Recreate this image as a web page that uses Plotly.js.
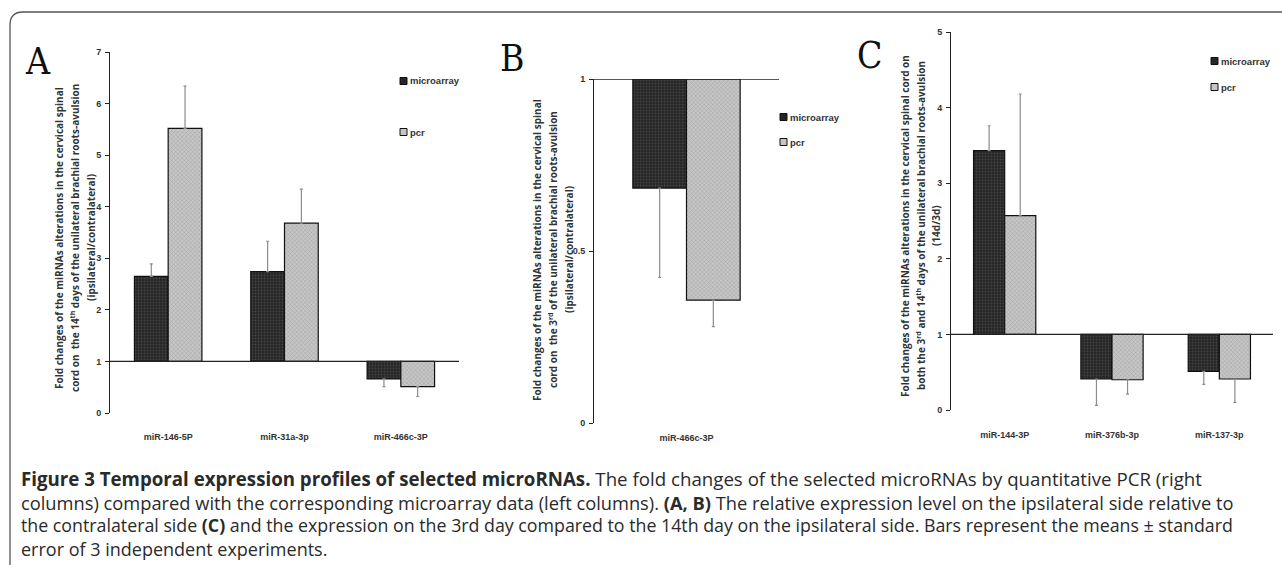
<!DOCTYPE html>
<html>
<head>
<meta charset="utf-8">
<script src="https://cdn.plot.ly/plotly-3.0.1.min.js"></script>
<style>html,body{margin:0;padding:0;background:#fff;}#chart{width:1282px;height:565px;}</style>
</head>
<body>
<div id="chart"></div>
<script>
// ---------- data ----------
const BASELINE = 1;
const seriesNames = ['microarray', 'pcr'];

const catsA = ['miR-146-5P', 'miR-31a-3p', 'miR-466c-3P'];
const microA = [2.65, 2.74, 0.66];
const microA_se = [0.24, 0.59, 0.15];
const pcrA = [5.52, 3.68, 0.51];
const pcrA_se = [0.82, 0.66, 0.19];
const ticksA = [0, 1, 2, 3, 4, 5, 6, 7];

const catsB = ['miR-466c-3P'];
const microB = [0.683];
const microB_se = [0.26];
const pcrB = [0.357];
const pcrB_se = [0.077];
const ticksB = [0, 0.5, 1];

const catsC = ['miR-144-3P', 'miR-376b-3p', 'miR-137-3p'];
const microC = [3.43, 0.41, 0.51];
const microC_se = [0.33, 0.35, 0.17];
const pcrC = [2.57, 0.40, 0.41];
const pcrC_se = [1.61, 0.19, 0.31];
const ticksC = [0, 1, 2, 3, 4, 5];

const titleA = ['Fold changes of the miRNAs alterations in the cervical spinal',
  'cord on  the 14<sup>th</sup> days of the unilateral brachial roots-avulsion',
  '(ipsilateral/contralateral)'];
const titleB = ['Fold changes of the miRNAs alterations in the cervical spinal',
  'cord on  the 3<sup>rd</sup> of the unilateral brachial roots-avulsion',
  '(ipsilateral/contralateral)'];
const titleC = ['Fold changes of the miRNAs alterations in the cervical spinal cord on',
  'both the 3<sup>rd</sup> and 14<sup>th</sup> days of the unilateral brachial roots-avulsion',
  '(14d/3d)'];

const captionLines = [
  '<b>Figure 3 Temporal expression profiles of selected microRNAs.</b> The fold changes of the selected microRNAs by quantitative PCR (right',
  'columns) compared with the corresponding microarray data (left columns). <b>(A, B)</b> The relative expression level on the ipsilateral side relative to',
  'the contralateral side <b>(C)</b> and the expression on the 3rd day compared to the 14th day on the ipsilateral side. Bars represent the means ± standard',
  'error of 3 independent experiments.'
];

// ---------- helpers ----------
const W = 1282, H = 565;
const px = x => x / W;
const py = y => 1 - y / H;

const microStyle = {color: '#2b2b2b', line: {color: '#111', width: 1.2},
  pattern: {shape: '.', fgcolor: '#444', bgcolor: '#262626', size: 3, solidity: 0.3}};
const pcrStyle = {color: '#c2c2c2', line: {color: '#111', width: 1.2},
  pattern: {shape: 'x', fgcolor: '#9c9c9c', bgcolor: '#c6c6c6', size: 3, solidity: 0.25}};

function barTrace(name, cats, vals, se, xa, ya, style) {
  return {
    type: 'bar', name: name, x: cats,
    y: vals.map(v => v - BASELINE),
    base: vals.map(() => BASELINE),
    xaxis: xa, yaxis: ya, marker: style, showlegend: false,
    error_y: {type: 'data', symmetric: false,
      array: vals.map((v, i) => v >= BASELINE ? se[i] : 0),
      arrayminus: vals.map((v, i) => v < BASELINE ? se[i] : 0),
      color: '#8c8c8c', thickness: 1.2, width: 1.5}
  };
}

const data = [
  barTrace(seriesNames[0], catsA, microA, microA_se, 'x', 'y', microStyle),
  barTrace(seriesNames[1], catsA, pcrA, pcrA_se, 'x', 'y', pcrStyle),
  barTrace(seriesNames[0], catsB, microB, microB_se, 'x2', 'y2', microStyle),
  barTrace(seriesNames[1], catsB, pcrB, pcrB_se, 'x2', 'y2', pcrStyle),
  barTrace(seriesNames[0], catsC, microC, microC_se, 'x3', 'y3', microStyle),
  barTrace(seriesNames[1], catsC, pcrC, pcrC_se, 'x3', 'y3', pcrStyle)
];

const tickFont = {family: 'Liberation Sans, Arial, sans-serif', size: 9, color: '#333', weight: 'bold'};

function xAxis(cats, left, right, anchor, standoff) {
  return {domain: [px(left), px(right)], anchor: anchor, type: 'category',
    range: [-0.5, cats.length - 0.5], showline: false, showgrid: false, zeroline: false,
    ticks: '', tickfont: tickFont, ticklabelstandoff: standoff, fixedrange: true};
}
function yAxis(ticks, top, bottom, anchor) {
  return {domain: [py(bottom), py(top)], anchor: anchor,
    range: [ticks[0], ticks[ticks.length - 1]], tickvals: ticks, ticktext: ticks.map(String),
    showline: true, linecolor: '#222', linewidth: 1, ticks: 'outside', ticklen: 4,
    tickcolor: '#222', showgrid: false, zeroline: false, tickfont: tickFont, ticklabelstandoff: 2, fixedrange: true};
}

const shapes = [];
// baseline lines
[['x', 'y'], ['x2', 'y2'], ['x3', 'y3']].forEach(([xa, ya]) => {
  shapes.push({type: 'line', xref: xa + ' domain', yref: ya, x0: 0, x1: 1, y0: BASELINE, y1: BASELINE,
    line: {color: '#222', width: 1.3}});
});
// frame with rounded top-left corner
const fx = 10, fy = 12, r = 13;
shapes.push({type: 'path', xref: 'paper', yref: 'paper',
  path: `M ${px(fx)} ${py(H + 5)} L ${px(fx)} ${py(fy + r)} Q ${px(fx)} ${py(fy)} ${px(fx + r)} ${py(fy)} L ${px(W + 5)} ${py(fy)}`,
  line: {color: '#555', width: 1.3}});

// legends
const annotations = [];
const legFont = {family: 'Liberation Sans, Arial, sans-serif', size: 9.5, color: '#333', weight: 'bold'};
function legend(x, y1, y2) {
  [[y1, microStyle, seriesNames[0]], [y2, pcrStyle, seriesNames[1]]].forEach(([y, st, nm]) => {
    shapes.push({type: 'rect', xref: 'paper', yref: 'paper', x0: px(x), x1: px(x + 7), y0: py(y + 3.5), y1: py(y - 3.5),
      fillcolor: st.pattern.bgcolor, line: {color: '#111', width: 1}});
    annotations.push({xref: 'paper', yref: 'paper', x: px(x + 8), y: py(y), xanchor: 'left', yanchor: 'middle',
      text: nm, showarrow: false, font: legFont});
  });
}
legend(400, 81, 132);
legend(780, 117, 142);
legend(1211, 61, 87);

// panel letters
const letterFont = {family: 'DejaVu Serif Condensed, DejaVu Serif, serif', size: 37, color: '#111', weight: 'normal'};
[['A', 38, 62], ['B', 512, 58], ['C', 869, 55]].forEach(([t, x, y]) => {
  annotations.push({xref: 'paper', yref: 'paper', x: px(x), y: py(y), xanchor: 'center', yanchor: 'middle',
    text: t, showarrow: false, font: letterFont});
});

// y titles (one annotation per line)
const yTitleFont = {family: 'Open Sans, sans-serif', size: 10, color: '#333', weight: 'bold'};
[[titleA, [59, 75, 91], 238], [titleB, [537, 553, 569], 250], [titleC, [905, 921, 936], 226]].forEach(([lines, xs, y]) => {
  lines.forEach((t, i) => {
    annotations.push({xref: 'paper', yref: 'paper', x: px(xs[i]), y: py(y), xanchor: 'center', yanchor: 'middle',
      text: t, showarrow: false, textangle: -90, font: yTitleFont, align: 'center'});
  });
});

// caption
const capY = [478, 502, 525, 549];
const capSize = [18.7, 18.3, 17.8, 18];
captionLines.forEach((t, i) => {
  annotations.push({xref: 'paper', yref: 'paper', x: px(19), y: py(capY[i]), xanchor: 'left', yanchor: 'middle',
    text: t, showarrow: false, align: 'left',
    font: {family: 'Open Sans, sans-serif', size: capSize[i], color: '#2a2a2a'}});
});

const layout = {
  width: W, height: H, margin: {l: 0, r: 0, t: 0, b: 0},
  paper_bgcolor: '#fff', plot_bgcolor: 'rgba(0,0,0,0)',
  barmode: 'group', bargap: 0.42, bargroupgap: 0,
  showlegend: false,
  xaxis: xAxis(catsA, 110, 459, 'y', 17),
  yaxis: yAxis(ticksA, 52, 413, 'x'),
  xaxis2: xAxis(catsB, 594, 779, 'y2', 8),
  yaxis2: yAxis(ticksB, 79, 423, 'x2'),
  xaxis3: xAxis(catsC, 951, 1273, 'y3', 18),
  yaxis3: yAxis(ticksC, 32, 410, 'x3'),
  shapes: shapes, annotations: annotations
};

Plotly.newPlot('chart', data, layout, {staticPlot: true, displayModeBar: false});
</script>
</body>
</html>
